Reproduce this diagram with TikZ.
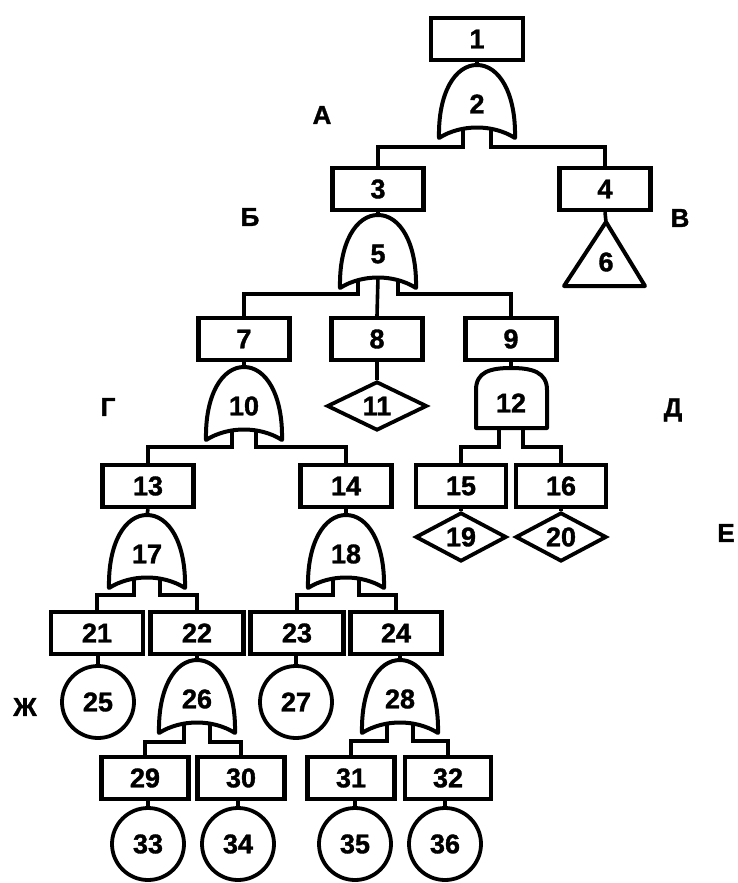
\documentclass[tikz,border=0pt]{standalone}
\usepackage{fontspec}
\setmainfont{Liberation Sans}
\newfontfamily\numfam{Liberation Sans}[BoldFeatures={FakeBold=1.3}]
\usetikzlibrary{shapes.geometric}
\tikzset{
  numfont/.style={font=\numfam\fontsize{27}{29}\selectfont\bfseries},
  box/.style={draw, line width=4.3pt, minimum width=91pt, minimum height=42pt, inner sep=0pt, numfont},
  gatelabel/.style={inner sep=0pt, numfont},
  gateline/.style={line width=4pt, line join=round},
  conn/.style={line width=3.6pt},
  circ/.style={draw, circle, line width=3.8pt, minimum size=72pt, inner sep=0pt, numfont},
  diam/.style={draw, diamond, line width=3.8pt, inner sep=0pt, aspect=2, numfont},
  lbl/.style={inner sep=0pt, font=\numfam\fontsize{26}{28}\selectfont\bfseries}
}
% OR gate: #1 name, #2 centre x, #3 top y, #4 label, #5 stub offset
\newcommand\orgatedraw[5]{%
  \draw[gateline] ({#2-38},{#3+73}) .. controls ({#2-39},{#3+28}) and ({#2-22},{#3}) .. ({#2},{#3})
     .. controls ({#2+22},{#3}) and ({#2+39},{#3+28}) .. ({#2+38},{#3+73})
     .. controls ({#2+16},{#3+59}) and ({#2-16},{#3+59}) .. cycle;
  \node[gatelabel] (#1) at ({#2},{#3+39}) {#4};
  \coordinate (#1top) at ({#2},{#3});
  \coordinate (#1l) at ({#2-#5},{#3+64});
  \coordinate (#1r) at ({#2+#5},{#3+64});
  \coordinate (#1m) at ({#2},{#3+62});
}
\begin{document}
\begin{tikzpicture}[x=1pt,y=-1pt]
\useasboundingbox (0,0) rectangle (738,883);

% boxes
\node[box, minimum width=92pt] (b1) at (477,39) {1};
\node[box] (b3) at (378,189) {3};
\node[box] (b4) at (605,189) {4};
\node[box] (b7) at (244,339) {7};
\node[box] (b8) at (377,339) {8};
\node[box] (b9) at (511,339) {9};
\node[box] (b13) at (148,486) {13};
\node[box] (b14) at (346,486) {14};
\node[box, minimum width=90pt] (b15) at (461,486) {15};
\node[box, minimum width=90pt] (b16) at (561,486) {16};
\node[box, minimum width=92pt] (b21) at (97,633) {21};
\node[box, minimum width=93pt] (b22) at (197,633) {22};
\node[box, minimum width=93pt] (b23) at (297,633) {23};
\node[box, minimum width=91pt] (b24) at (396,633) {24};
\node[box, minimum width=87pt] (b29) at (145,778) {29};
\node[box, minimum width=87pt] (b30) at (241,778) {30};
\node[box, minimum width=87pt] (b31) at (351,778) {31};
\node[box, minimum width=86pt] (b32) at (448,778) {32};

% gates
\orgatedraw{g2}{477}{65}{2}{14}
\orgatedraw{g5}{378}{215}{5}{20}
\orgatedraw{g10}{244}{367}{10}{12}
\orgatedraw{g17}{147}{515}{17}{13}
\orgatedraw{g18}{346}{515}{18}{13}
\orgatedraw{g26}{197}{660}{26}{13}
\orgatedraw{g28}{400}{660}{28}{13}

% AND gate 12
\draw[gateline] (476,428) -- (476,390) .. controls (476,372) and (490,368) .. (511,368)
   .. controls (532,368) and (547,372) .. (547,390) -- (547,428) -- cycle;
\node[gatelabel] (g12) at (511,403) {12};
\coordinate (g12top) at (511,368);
\coordinate (g12l) at (499,428);
\coordinate (g12r) at (523,428);

% triangle 6
\draw[gateline] (606,222) -- (645,286) -- (564,286) -- cycle;
\coordinate (t6top) at (606,222);
\node[gatelabel] (t6) at (606,262) {6};

% diamonds
\node[diam, minimum width=100pt, minimum height=49pt] (d11) at (377,406) {11};
\node[diam, minimum width=91pt, minimum height=49pt] (d19) at (461,537) {19};
\node[diam, minimum width=91pt, minimum height=49pt] (d20) at (561,537) {20};

% circles
\node[circ] (c25) at (98,702) {25};
\node[circ] (c27) at (296,702) {27};
\node[circ] (c33) at (148,844) {33};
\node[circ] (c34) at (238,844) {34};
\node[circ] (c35) at (355,844) {35};
\node[circ] (c36) at (445,844) {36};

% letter labels
\node[lbl] (lA) at (322,115) {А};
\node[lbl] (lB) at (250,217) {Б};
\node[lbl] (lV) at (680,218) {В};
\node[lbl] (lG) at (108,407) {Г};
\node[lbl] (lD) at (673,410) {Д};
\node[lbl] (lE) at (726,533) {Е};
\node[lbl] (lZh) at (25,707) {Ж};

% connectors
\draw[conn] (b1.south) -- (g2top);
\draw[conn] (g2l) -- ++(0,18) -| (b3.north);
\draw[conn] (g2r) -- ++(0,18) -| (b4.north);
\draw[conn] (b3.south) -- (g5top);
\draw[conn] (b4.south) -- (t6top);
\draw[conn] (g5l) -- ++(0,15) -| (b7.north);
\draw[conn] (g5r) -- ++(0,15) -| (b9.north);
\draw[conn] (g5m) -- (b8.north);
\draw[conn] (b7.south) -- (g10top);
\draw[conn] (b8.south) -- (d11.north);
\draw[conn] (b9.south) -- (g12top);
\draw[conn] (g10l) -- ++(0,16) -| (b13.north);
\draw[conn] (g10r) -- ++(0,16) -| (b14.north);
\draw[conn] (g12l) -- ++(0,19) -| (b15.north);
\draw[conn] (g12r) -- ++(0,19) -| (b16.north);
\draw[conn] (b13.south) -- (g17top);
\draw[conn] (b14.south) -- (g18top);
\draw[conn] (b15.south) -- (d19.north);
\draw[conn] (b16.south) -- (d20.north);
\draw[conn] (g17l) -- ++(0,16) -| (b21.north);
\draw[conn] (g17r) -- ++(0,16) -| (b22.north);
\draw[conn] (g18l) -- ++(0,16) -| (b23.north);
\draw[conn] (g18r) -- ++(0,16) -| (b24.north);
\draw[conn] (c25.north) -- (c25.north |- b21.south);
\draw[conn] (g26top) -- (g26top |- b22.south);
\draw[conn] (c27.north) -- (c27.north |- b23.south);
\draw[conn] (g28top) -- (g28top |- b24.south);
\draw[conn] (g26l) -- ++(0,18) -| (b29.north);
\draw[conn] (g26r) -- ++(0,18) -| (b30.north);
\draw[conn] (g28l) -- ++(0,17) -| (b31.north);
\draw[conn] (g28r) -- ++(0,17) -| (b32.north);
\draw[conn] (c33.north) -- (c33.north |- b29.south);
\draw[conn] (c34.north) -- (c34.north |- b30.south);
\draw[conn] (c35.north) -- (c35.north |- b31.south);
\draw[conn] (c36.north) -- (c36.north |- b32.south);
\end{tikzpicture}
\end{document}
